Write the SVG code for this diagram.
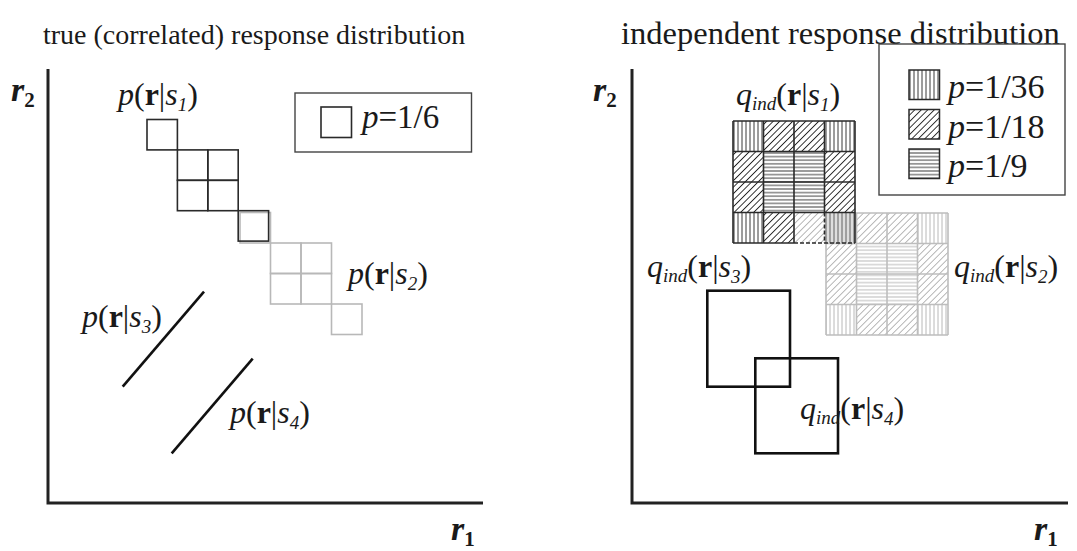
<svg xmlns="http://www.w3.org/2000/svg" width="1077" height="551" viewBox="0 0 1077 551">
<defs>
<style>
text{font-family:"Liberation Serif","Times New Roman",serif;fill:#1a1a1a}
.title{font-size:28px}
.title2{font-size:32.5px}
.lbl{font-size:32px}
.leg{font-size:34px}
.axl{font-size:34px;font-weight:bold;font-style:italic}
.axs{font-size:21px;font-weight:bold;font-style:normal}
.it{font-style:italic}
.bd{font-weight:bold}
.sub{font-size:19px;font-style:italic}
.axis{stroke:#222;stroke-width:3;fill:none}
.sqB{fill:none;stroke:#2a2a2a;stroke-width:1.6}
.sqG{fill:none;stroke:#b8b8b8;stroke-width:1.6}
.dist{stroke:#111;stroke-width:2.6;fill:none}
.box{fill:none;stroke:#444;stroke-width:1.4}
.gB{stroke:#2a2a2a;stroke-width:1.6;fill:none}
.gG{stroke:#bdbdbd;stroke-width:1.6;fill:none}
</style>
<pattern id="vB" patternUnits="userSpaceOnUse" width="4" height="4"><line x1="2" y1="0" x2="2" y2="4" stroke="#222" stroke-width="0.9"/></pattern>
<pattern id="hB" patternUnits="userSpaceOnUse" width="4" height="3.6"><line x1="0" y1="1.8" x2="4" y2="1.8" stroke="#222" stroke-width="0.9"/></pattern>
<pattern id="dB" patternUnits="userSpaceOnUse" width="4.6" height="4.6" patternTransform="rotate(45)"><line x1="2.3" y1="0" x2="2.3" y2="4.6" stroke="#222" stroke-width="0.9"/></pattern>
<pattern id="vG" patternUnits="userSpaceOnUse" width="4" height="4"><line x1="2" y1="0" x2="2" y2="4" stroke="#b0b0b0" stroke-width="0.9"/></pattern>
<pattern id="hG" patternUnits="userSpaceOnUse" width="4" height="3.6"><line x1="0" y1="1.8" x2="4" y2="1.8" stroke="#b0b0b0" stroke-width="0.9"/></pattern>
<pattern id="dG" patternUnits="userSpaceOnUse" width="4.6" height="4.6" patternTransform="rotate(45)"><line x1="2.3" y1="0" x2="2.3" y2="4.6" stroke="#b0b0b0" stroke-width="0.9"/></pattern>
</defs>
<rect width="1077" height="551" fill="#fff"/>

<g id="titles">
<text class="title" x="43" y="44">true (correlated) response distribution</text>
<text class="title2" x="621" y="44">independent response distribution</text>
</g>

<g id="left-axes">
<path class="axis" d="M48,69 V503 H483"/>
<text class="axl" x="11" y="101">r<tspan class="axs" dy="6">2</tspan></text>
<text class="axl" x="451" y="540">r<tspan class="axs" dy="6">1</tspan></text>
</g>

<g id="left-legend">
<rect class="box" x="295" y="93" width="176.5" height="59"/>
<rect class="sqB" x="321" y="107" width="30.5" height="30.5"/>
<text class="leg" x="362" y="128" style="font-size:33px"><tspan class="it">p</tspan>=1/6</text>
</g>

<g id="p-s2">
<rect class="sqG" x="240" y="212.5" width="30.5" height="30.5"/>
<rect class="sqG" x="270.5" y="243" width="30.5" height="30.5"/>
<rect class="sqG" x="301" y="243" width="30.5" height="30.5"/>
<rect class="sqG" x="270.5" y="273.5" width="30.5" height="30.5"/>
<rect class="sqG" x="301" y="273.5" width="30.5" height="30.5"/>
<rect class="sqG" x="331.5" y="304" width="30.5" height="30.5"/>
<text class="lbl" x="348" y="284"><tspan class="it">p</tspan>(<tspan class="bd">r</tspan>|<tspan class="it">s</tspan><tspan class="sub" dy="6">2</tspan><tspan dy="-6">)</tspan></text>
</g>

<g id="p-s1">
<rect class="sqB" x="147" y="119.5" width="30.4" height="30.4"/>
<rect class="sqB" x="177.4" y="149.9" width="30.4" height="30.4"/>
<rect class="sqB" x="207.8" y="149.9" width="30.4" height="30.4"/>
<rect class="sqB" x="177.4" y="180.3" width="30.4" height="30.4"/>
<rect class="sqB" x="207.8" y="180.3" width="30.4" height="30.4"/>
<rect class="sqB" x="238.2" y="210.7" width="30.4" height="30.4"/>
<text class="lbl" x="118" y="105"><tspan class="it">p</tspan>(<tspan class="bd">r</tspan>|<tspan class="it">s</tspan><tspan class="sub" dy="6">1</tspan><tspan dy="-6">)</tspan></text>
</g>

<g id="p-s3">
<line class="dist" x1="122.7" y1="386.7" x2="204" y2="291.7"/>
<text class="lbl" x="82" y="327"><tspan class="it">p</tspan>(<tspan class="bd">r</tspan>|<tspan class="it">s</tspan><tspan class="sub" dy="6">3</tspan><tspan dy="-6">)</tspan></text>
</g>

<g id="p-s4">
<line class="dist" x1="171.7" y1="453.3" x2="252.7" y2="358.7"/>
<text class="lbl" x="230" y="423"><tspan class="it">p</tspan>(<tspan class="bd">r</tspan>|<tspan class="it">s</tspan><tspan class="sub" dy="6">4</tspan><tspan dy="-6">)</tspan></text>
</g>

<g id="right-axes">
<path class="axis" d="M632,69 V503 H1068"/>
<text class="axl" x="593" y="101">r<tspan class="axs" dy="6">2</tspan></text>
<text class="axl" x="1034" y="540">r<tspan class="axs" dy="6">1</tspan></text>
</g>

<g id="right-legend">
<rect class="box" x="879" y="44" width="186" height="151"/>
<rect x="909" y="70" width="30.5" height="29.5" fill="url(#vB)" stroke="#2a2a2a" stroke-width="1.5"/>
<rect x="909" y="109.5" width="30.5" height="29.5" fill="url(#dB)" stroke="#2a2a2a" stroke-width="1.5"/>
<rect x="909" y="149" width="30.5" height="29.5" fill="url(#hB)" stroke="#2a2a2a" stroke-width="1.5"/>
<text class="leg" x="948" y="98"><tspan class="it">p</tspan>=1/36</text>
<text class="leg" x="948" y="137.5"><tspan class="it">p</tspan>=1/18</text>
<text class="leg" x="948" y="177"><tspan class="it">p</tspan>=1/9</text>
</g>

<g id="q-s2">
<rect x="856.5" y="213" width="30.5" height="30.5" fill="url(#dG)"/>
<rect x="887" y="213" width="30.5" height="30.5" fill="url(#dG)"/>
<rect x="917.5" y="213" width="30.5" height="30.5" fill="url(#vG)"/>
<rect x="826" y="243.5" width="30.5" height="30.5" fill="url(#dG)"/>
<rect x="856.5" y="243.5" width="61" height="61" fill="url(#hG)"/>
<rect x="917.5" y="243.5" width="30.5" height="61" fill="url(#dG)"/>
<rect x="826" y="274" width="30.5" height="30.5" fill="url(#dG)"/>
<rect x="826" y="304.5" width="30.5" height="30.5" fill="url(#vG)"/>
<rect x="856.5" y="304.5" width="61" height="30.5" fill="url(#dG)"/>
<rect x="917.5" y="304.5" width="30.5" height="30.5" fill="url(#vG)"/>
<path class="gG" d="M826,213 H948 M826,243.5 H948 M826,274 H948 M826,304.5 H948 M826,335 H948 M826,213 V335 M856.5,213 V335 M887,213 V335 M917.5,213 V335 M948,213 V335"/>
<text class="lbl" x="954" y="277"><tspan class="it">q</tspan><tspan class="sub" dy="5">ind</tspan><tspan dy="-5">(</tspan><tspan class="bd">r</tspan>|<tspan class="it">s</tspan><tspan class="sub" dy="6">2</tspan><tspan dy="-6">)</tspan></text>
</g>

<g id="q-s1">
<rect x="733" y="121" width="30.5" height="30.5" fill="url(#vB)"/>
<rect x="763.5" y="121" width="61" height="30.5" fill="url(#dB)"/>
<rect x="824.5" y="121" width="30.5" height="30.5" fill="url(#vB)"/>
<rect x="733" y="151.5" width="30.5" height="61" fill="url(#dB)"/>
<rect x="763.5" y="151.5" width="61" height="61" fill="url(#hB)"/>
<rect x="824.5" y="151.5" width="30.5" height="61" fill="url(#dB)"/>
<rect x="733" y="212.5" width="30.5" height="30.5" fill="url(#vB)"/>
<rect x="763.5" y="212.5" width="30.5" height="30.5" fill="url(#dB)"/>
<rect x="794" y="212.5" width="30.5" height="30.5" fill="#fff"/>
<rect x="794" y="212.5" width="30.5" height="30.5" fill="url(#dG)"/>
<rect x="824.5" y="212.5" width="30.5" height="30.5" fill="#dedede"/>
<rect x="824.5" y="212.5" width="30.5" height="30.5" fill="url(#vB)" opacity="0.75"/>
<path class="gB" d="M733,121 H855 M733,151.5 H855 M733,182 H855 M733,212.5 H855 M733,243 H794 M733,121 V243 M763.5,121 V243 M794,121 V243 M824.5,121 V212.5 M855,121 V243"/>
<path class="gB" stroke-dasharray="4 2" d="M794,243 H855 M824.5,212.5 V243"/>
<text class="lbl" x="736" y="105"><tspan class="it">q</tspan><tspan class="sub" dy="5">ind</tspan><tspan dy="-5">(</tspan><tspan class="bd">r</tspan>|<tspan class="it">s</tspan><tspan class="sub" dy="6">1</tspan><tspan dy="-6">)</tspan></text>
</g>

<g id="q-s3">
<rect class="dist" x="707.3" y="290.7" width="82.7" height="96"/>
<text class="lbl" x="647" y="277"><tspan class="it">q</tspan><tspan class="sub" dy="5">ind</tspan><tspan dy="-5">(</tspan><tspan class="bd">r</tspan>|<tspan class="it">s</tspan><tspan class="sub" dy="6">3</tspan><tspan dy="-6">)</tspan></text>
</g>

<g id="q-s4">
<rect class="dist" x="755.3" y="358.3" width="82.7" height="95"/>
<text class="lbl" x="800" y="419"><tspan class="it">q</tspan><tspan class="sub" dy="5">ind</tspan><tspan dy="-5">(</tspan><tspan class="bd">r</tspan>|<tspan class="it">s</tspan><tspan class="sub" dy="6">4</tspan><tspan dy="-6">)</tspan></text>
</g>

<g id="connectors"></g>
</svg>
